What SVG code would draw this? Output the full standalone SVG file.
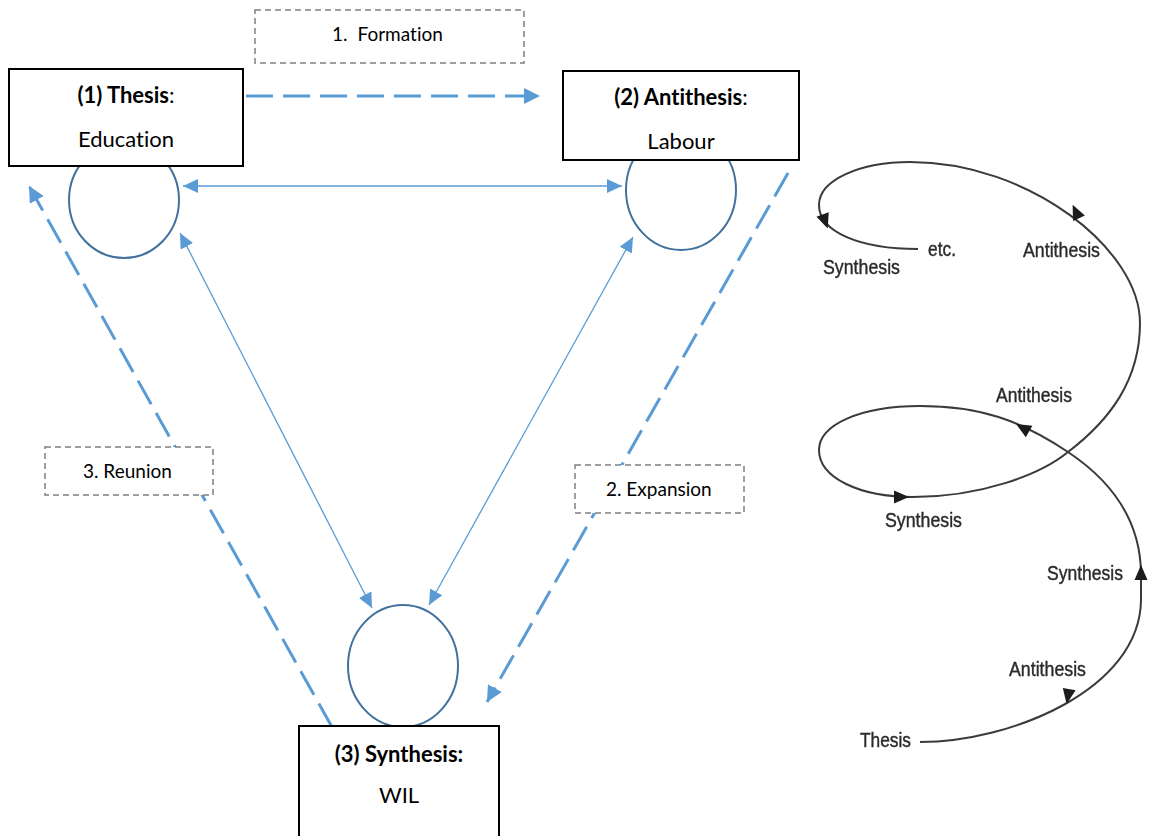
<svg xmlns="http://www.w3.org/2000/svg" width="1149" height="836" viewBox="0 0 1149 836">
  <style>
    .box { fill: #ffffff; stroke: #000000; stroke-width: 2; }
    .lbl { fill: #ffffff; stroke: #7f7f7f; stroke-width: 1.5; stroke-dasharray: 6 4; }
    .ring { fill: none; stroke: #41719c; stroke-width: 2; }
    .t { font-family: Lato, "Open Sans", sans-serif; font-size: 22px; fill: #000000; text-anchor: middle; font-variant-ligatures: none; }
    .tb { font-weight: bold; }
    .ts { font-family: Lato, "Open Sans", sans-serif; font-size: 19px; fill: #000000; font-variant-ligatures: none; }
    .dash { fill: none; stroke: #5b9bd5; stroke-width: 3; stroke-dasharray: 27 10; }
    .thin { fill: none; stroke: #5b9bd5; stroke-width: 1.3; }
    .sp { fill: none; stroke: #3a3a3a; stroke-width: 2; }
    .spt { font-family: "Liberation Sans", Arial, sans-serif; font-size: 20px; fill: #2a2a2a; stroke: #2a2a2a; stroke-width: 0.4; }
  </style>
  <defs>
    <marker id="headBig" markerUnits="userSpaceOnUse" markerWidth="18" markerHeight="16" refX="16" refY="8" orient="auto">
      <path d="M0 0 L16 8 L0 16 Z" fill="#5b9bd5"/>
    </marker>
    <marker id="headSmall" markerUnits="userSpaceOnUse" markerWidth="16" markerHeight="14" refX="15" refY="7" orient="auto-start-reverse">
      <path d="M0 0 L15 7 L0 14 Z" fill="#5b9bd5"/>
    </marker>
    <path id="tri" d="M8 0 L-7 -6.5 L-7 6.5 Z" fill="#1a1a1a"/>
    <filter id="soft" x="-5%" y="-5%" width="110%" height="110%">
      <feGaussianBlur stdDeviation="0.5"/>
    </filter>
  </defs>

  <!-- circles under the boxes -->
  <g id="circles">
    <ellipse class="ring" cx="124" cy="200" rx="55" ry="58"/>
    <ellipse class="ring" cx="681" cy="190" rx="55" ry="60"/>
    <ellipse class="ring" cx="403" cy="666" rx="55" ry="61"/>
  </g>

  <!-- connectors -->
  <g id="connectors">
    <line class="dash" x1="246" y1="96" x2="540" y2="96" marker-end="url(#headBig)"/>
    <line class="dash" x1="788" y1="173" x2="487" y2="702" marker-end="url(#headBig)"/>
    <line class="dash" x1="332" y1="727" x2="29" y2="186" marker-end="url(#headBig)"/>
    <line class="thin" x1="183" y1="186" x2="622" y2="186" marker-start="url(#headSmall)" marker-end="url(#headSmall)"/>
    <line class="thin" x1="180" y1="233" x2="372" y2="608" marker-start="url(#headSmall)" marker-end="url(#headSmall)"/>
    <line class="thin" x1="633" y1="237" x2="429" y2="605" marker-start="url(#headSmall)" marker-end="url(#headSmall)"/>
  </g>

  <!-- step labels -->
  <g id="label-formation">
    <rect class="lbl" x="255" y="10" width="269" height="53"/>
    <text class="ts" x="332" y="41">1.<tspan dx="10">Formation</tspan></text>
  </g>
  <g id="label-expansion">
    <rect class="lbl" x="575" y="465" width="169" height="48"/>
    <text class="ts" x="606" y="496">2. Expansion</text>
  </g>
  <g id="label-reunion">
    <rect class="lbl" x="45" y="447" width="168" height="48"/>
    <text class="ts" x="83" y="478">3. Reunion</text>
  </g>

  <!-- main nodes -->
  <g id="node-thesis">
    <rect class="box" x="9" y="69" width="234" height="97"/>
    <text class="t" x="126" y="103"><tspan class="tb">(1) Thesis</tspan>:</text>
    <text class="t" x="126" y="147">Education</text>
  </g>
  <g id="node-antithesis">
    <rect class="box" x="563" y="71" width="236" height="89"/>
    <text class="t" x="681" y="105"><tspan class="tb">(2) Antithesis</tspan>:</text>
    <text class="t" x="681" y="149">Labour</text>
  </g>
  <g id="node-synthesis">
    <rect class="box" x="299" y="726" width="200" height="120"/>
    <text class="t tb" x="399" y="762">(3) Synthesis:</text>
    <text class="t" x="399" y="803">WIL</text>
  </g>

  <!-- dialectical spiral -->
  <g id="spiral" filter="url(#soft)">
    <path class="sp" d="M920 742 C1010 742 1140 690 1141 600 L1141 575 C1141 520 1110 480 1068 452 C1020 420 980 406 920 406 C860 406 819 425 819 450 C819 478 860 497 913 497 C980 497 1040 475 1068 452 C1110 420 1140 380 1140 323 C1140 250 1030 162 910 162 C860 162 819 180 819 205 C819 232 860 249 918 249"/>
    <use href="#tri" transform="translate(1068 696) rotate(100)"/>
    <use href="#tri" transform="translate(1141 573) rotate(-90)"/>
    <use href="#tri" transform="translate(1023 428) rotate(-150)"/>
    <use href="#tri" transform="translate(901 497) rotate(0)"/>
    <use href="#tri" transform="translate(1076 212) rotate(-115)"/>
    <use href="#tri" transform="translate(825 221) rotate(70)"/>
    <text class="spt" x="823" y="274" textLength="77" lengthAdjust="spacingAndGlyphs">Synthesis</text>
    <text class="spt" x="928" y="256" textLength="28" lengthAdjust="spacingAndGlyphs">etc.</text>
    <text class="spt" x="1023" y="257" textLength="77" lengthAdjust="spacingAndGlyphs">Antithesis</text>
    <text class="spt" x="996" y="402" textLength="76" lengthAdjust="spacingAndGlyphs">Antithesis</text>
    <text class="spt" x="885" y="527" textLength="77" lengthAdjust="spacingAndGlyphs">Synthesis</text>
    <text class="spt" x="1047" y="580" textLength="76" lengthAdjust="spacingAndGlyphs">Synthesis</text>
    <text class="spt" x="1009" y="676" textLength="77" lengthAdjust="spacingAndGlyphs">Antithesis</text>
    <text class="spt" x="860" y="747" textLength="51" lengthAdjust="spacingAndGlyphs">Thesis</text>
  </g>
</svg>
